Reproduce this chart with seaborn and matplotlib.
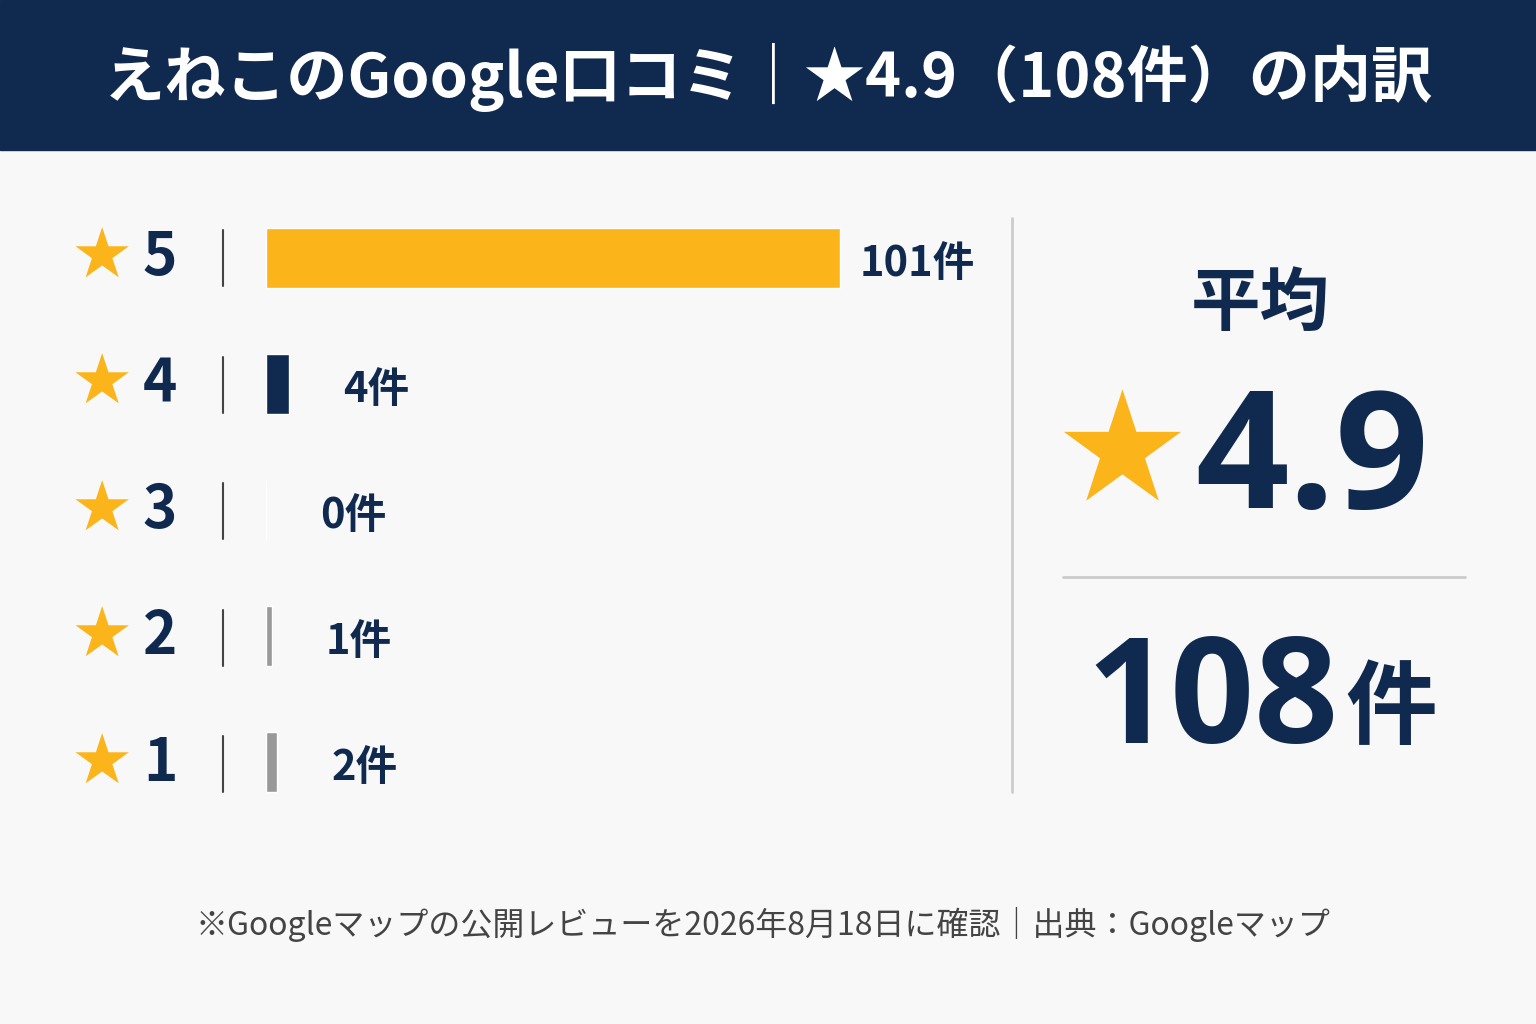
import matplotlib
matplotlib.use("Agg")
import matplotlib.pyplot as plt
import seaborn as sns
import pandas as pd
from matplotlib.lines import Line2D

stars = ["5", "4", "3", "2", "1"]
counts = [101, 4, 0, 1, 2]
bar_colors = ["#fbb41a", "#10294f", "#999999", "#999999", "#999999"]
title = "えねこのGoogle口コミ｜★4.9（108件）の内訳"
avg_label = "平均"
avg_value = "4.9"
total_value = "108"
footer = "※Googleマップの公開レビューを2026年8月18日に確認｜出典：Googleマップ"

NAVY = "#10294f"
GOLD = "#fbb41a"
BG = "#f8f8f8"

sns.set_theme(style="white")
plt.rcParams['font.family'] = ['Noto Sans CJK JP', 'DejaVu Sans']

fig = plt.figure(figsize=(15.36, 10.24), dpi=100, facecolor=BG)
W, H = 1536, 1024
def fx(x): return x / W
def fy(y): return 1 - y / H

fig.patches.append(plt.Rectangle((0, fy(150)), 1, 150 / H, transform=fig.transFigure,
                                 color=NAVY, zorder=0))
fig.text(0.5, fy(78), title, color="white", fontsize=44, fontweight="bold",
         ha="center", va="center")

ax = fig.add_axes([fx(266), fy(825), fx(734), 630 / H])
ax.set_facecolor(BG)
df = pd.DataFrame({"star": stars, "count": counts})
sns.barplot(data=df, x="count", y="star", hue="star", palette=bar_colors,
            orient="h", width=0.47, legend=False, ax=ax, saturation=1)
ax.set_xlim(0, 101 * 734 / 574)
ax.set_ylim(4.5, -0.5)
ax.axis("off")
for i, c in enumerate(counts):
    off = 3.5 if c > 50 else 9.5
    ax.text(c + off, i + 0.05, f"{c}件", color=NAVY, fontsize=30, fontweight="bold",
            ha="left", va="center")

for i, s in enumerate(stars):
    y = fy(258 + i * 126.5)
    fig.text(fx(102), y, "★", color=GOLD, fontsize=50, ha="center", va="center",
             family=["DejaVu Sans"])
    fig.text(fx(160), y, s, color=NAVY, fontsize=42, fontweight="bold",
             ha="center", va="center")
    fig.add_artist(Line2D([fx(223), fx(223)], [y - 28 / H, y + 28 / H],
                          transform=fig.transFigure, color="#444444", lw=1.5))

fig.add_artist(Line2D([fx(1012), fx(1012)], [fy(218), fy(792)],
                      transform=fig.transFigure, color="#cccccc", lw=2))
fig.add_artist(Line2D([fx(1063), fx(1465)], [fy(577), fy(577)],
                      transform=fig.transFigure, color="#cccccc", lw=2))
fig.text(fx(1260), fy(305), avg_label, color=NAVY, fontsize=50, fontweight="bold",
         ha="center", va="center")
fig.text(fx(1122), fy(458), "★", color=GOLD, fontsize=110, ha="center", va="center",
         family=["DejaVu Sans"])
fig.text(fx(1195), fy(465), avg_value, color=NAVY, fontsize=118, fontweight="bold",
         ha="left", va="center", family=["Open Sans", "DejaVu Sans"])
fig.text(fx(1338), fy(705), total_value, color=NAVY, fontsize=106, fontweight="bold",
         ha="right", va="center", family=["Open Sans", "DejaVu Sans"])
fig.text(fx(1345), fy(710), "件", color=NAVY, fontsize=66, fontweight="bold",
         ha="left", va="center")

fig.text(fx(763), fy(925), footer, color="#444444", fontsize=23, ha="center", va="center")

fig.savefig("out.png", dpi=100, facecolor=BG)
